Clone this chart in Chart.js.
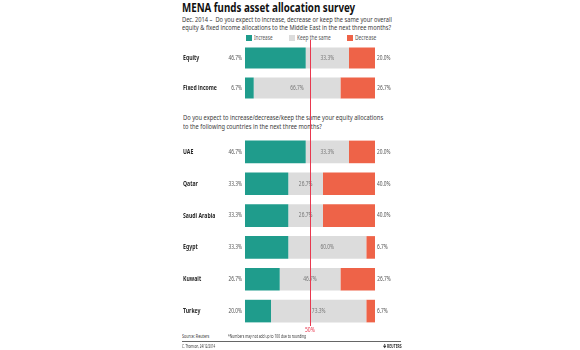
<!DOCTYPE html>
<html>
<head>
<meta charset="utf-8">
<script src="https://cdn.jsdelivr.net/npm/chart.js@4"></script>
<style>
  body { margin: 0; width: 580px; height: 350px; background: #fff; position: relative; overflow: hidden;
         font-family: 'Noto Sans', sans-serif; color: #3a3a3a; }
  .t { position: absolute; white-space: nowrap; line-height: 1; transform-origin: 0 0; }
  .box { position: absolute; }
</style>
</head>
<body>
<div class="t" data-w="173" style="left:182px;top:2px;font-size:12px;font-weight:bold;color:#111">MENA funds asset allocation survey</div>
<div class="t" data-w="210" style="left:182px;top:15.5px;font-size:7.5px">Dec. 2014 –&nbsp; Do you expect to increase, decrease or keep the same your overall</div>
<div class="t" data-w="209" style="left:182px;top:24px;font-size:7.5px">equity &amp; fixed income allocations to the Middle East in the next three months?</div>
<div id="legend"></div>
<div class="t" data-w="200" style="left:183px;top:114px;font-size:7.5px">Do you expect to increase/decrease/keep the same your equity allocations</div>
<div class="t" data-w="139" style="left:183px;top:122.5px;font-size:7.5px">to the following countries in the next three months?</div>

<div class="box" style="left:183px;top:43px;width:230px;height:60px"><canvas id="top-chart"></canvas></div>
<div class="box" style="left:183px;top:136px;width:230px;height:191px"><canvas id="country-chart"></canvas></div>
<div id="mid-line" class="box" style="top:40px;width:1px;height:286px;background:#e8384f"></div>
<div id="mid-label" class="t" data-w="10" style="top:327px;font-size:6.5px;color:#e8384f">50%</div>

<div class="t" data-w="27" style="left:182px;top:334px;font-size:5.5px">Source: Reuters</div>
<div class="t" data-w="78" style="left:228px;top:334px;font-size:5.5px">*Numbers may not add up to 100 due to rounding</div>
<div class="box" style="left:182px;top:341px;width:219px;height:1px;background:#666"></div>
<div class="t" data-w="33" style="left:182px;top:344px;font-size:4.5px">C. Thomson, 24/12/2014</div>
<div class="t" data-w="19" style="left:383px;top:344px;font-size:4.5px;font-weight:bold;color:#333">&#10070; REUTERS</div>

<script>
const legendLabels = ['Increase', 'Keep the same', 'Decrease'];
const colors = ['#1f9c8c', '#dcdcdc', '#ee6348'];

const topLabels = ['Equity', 'Fixed income'];
const topIncrease = [46.7, 6.7];
const topKeep = [33.3, 66.7];
const topDecrease = [20.0, 26.7];

const countryLabels = ['UAE', 'Qatar', 'Saudi Arabia', 'Egypt', 'Kuwait', 'Turkey'];
const countryIncrease = [46.7, 33.3, 33.3, 33.3, 26.7, 20.0];
const countryKeep = [33.3, 26.7, 26.7, 60.0, 46.7, 73.3];
const countryDecrease = [20.0, 40.0, 40.0, 6.7, 26.7, 6.7];

const fontFamily = "'Noto Sans', sans-serif";
const squeeze = 0.74; // source font is a narrow one

// legend
const legendX = [246, 289, 347];
const legendW = [18.5, 34, 21];
const legend = document.getElementById('legend');
legendLabels.forEach((lbl, i) => {
  const sq = document.createElement('div');
  sq.className = 'box';
  sq.style.cssText = `left:${legendX[i]}px;top:35px;width:5.5px;height:5.5px;background:${colors[i]}`;
  legend.appendChild(sq);
  const d = document.createElement('div');
  d.className = 't';
  d.dataset.w = legendW[i];
  d.style.cssText = `left:${legendX[i] + 7.5}px;top:34px;font-size:7px;color:#555`;
  d.textContent = lbl;
  legend.appendChild(d);
});

function squeezed(ctx, text, x, y) {
  ctx.fillText(text, x, y, ctx.measureText(text).width * squeeze);
}

const barLabels = {
  id: 'barLabels',
  afterDatasetsDraw(chart) {
    const ctx = chart.ctx;
    const inc = chart.getDatasetMeta(0).data;
    const keep = chart.getDatasetMeta(1).data;
    const dec = chart.getDatasetMeta(2).data;
    const ds = chart.data.datasets;
    ctx.save();
    ctx.textBaseline = 'middle';
    // category names, left aligned at the canvas edge
    ctx.font = `bold 7px ${fontFamily}`;
    ctx.fillStyle = '#2a2a2a';
    ctx.textAlign = 'left';
    chart.data.labels.forEach((lbl, i) => {
      squeezed(ctx, lbl, chart.scales.y.left, chart.scales.y.getPixelForValue(i));
    });
    ctx.font = `6.5px ${fontFamily}`;
    inc.forEach((bar, i) => {
      ctx.fillStyle = '#555';
      ctx.textAlign = 'right';
      squeezed(ctx, ds[0].data[i].toFixed(1) + '%', bar.base - 3, bar.y);
      ctx.fillStyle = '#777';
      ctx.textAlign = 'center';
      squeezed(ctx, ds[1].data[i].toFixed(1) + '%', (keep[i].x + keep[i].base) / 2, keep[i].y);
      ctx.fillStyle = '#555';
      ctx.textAlign = 'left';
      squeezed(ctx, ds[2].data[i].toFixed(1) + '%', dec[i].x + 2, dec[i].y);
    });
    ctx.restore();
  }
};

function makeChart(id, labels, inc, keep, dec, barPct) {
  return new Chart(document.getElementById(id), {
    type: 'bar',
    data: {
      labels: labels,
      datasets: [
        { label: legendLabels[0], data: inc, backgroundColor: colors[0] },
        { label: legendLabels[1], data: keep, backgroundColor: colors[1] },
        { label: legendLabels[2], data: dec, backgroundColor: colors[2] },
      ],
    },
    options: {
      indexAxis: 'y',
      responsive: true,
      maintainAspectRatio: false,
      animation: false,
      layout: { padding: { left: 0, right: 38, top: 0, bottom: 0 } },
      datasets: { bar: { barPercentage: barPct, categoryPercentage: 1 } },
      plugins: { legend: { display: false }, tooltip: { enabled: false } },
      scales: {
        x: { stacked: true, min: 0, max: 100, display: false },
        y: {
          stacked: true,
          grid: { display: false },
          border: { display: false },
          ticks: { display: false },
          afterFit: (scale) => { scale.width = 62; },
        },
      },
    },
    plugins: [barLabels],
  });
}

const topChart = makeChart('top-chart', topLabels, topIncrease, topKeep, topDecrease, 0.7);
makeChart('country-chart', countryLabels, countryIncrease, countryKeep, countryDecrease, 0.71);

// squeeze html text to the narrow widths of the original
document.querySelectorAll('.t[data-w]').forEach((el) => {
  el.style.transform = `scaleX(${el.dataset.w / el.offsetWidth})`;
});

// 50% reference line placed from the chart's own x scale
const midX = 183 + topChart.scales.x.getPixelForValue(50);
document.getElementById('mid-line').style.left = (Math.round(midX) - 0.5) + 'px';
const ml = document.getElementById('mid-label');
ml.style.left = (midX - ml.dataset.w / 2) + 'px';
</script>
</body>
</html>
